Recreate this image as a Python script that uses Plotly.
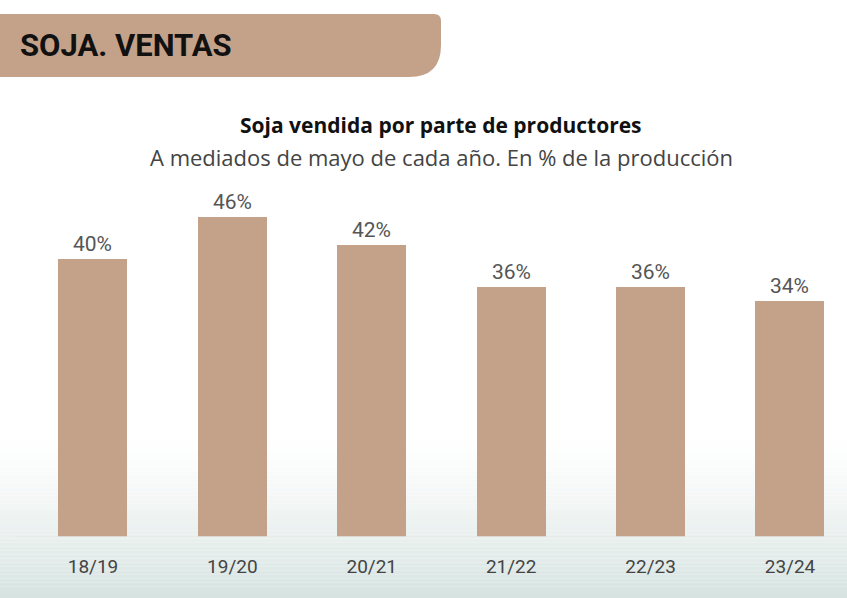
import plotly.graph_objects as go
import numpy as np

categories = ["18/19", "19/20", "20/21", "21/22", "22/23", "23/24"]
values = [40, 46, 42, 36, 36, 34]
labels = [f"{v}%" for v in values]

W, H = 847, 598
PT, PB = 180, 537  # plot area top/bottom in px

def px(x):
    return x / W

def py(y):
    return (PB - y) / (PB - PT)

BAR = "#c4a28a"
xs = list(range(len(categories)))

fig = go.Figure()
fig.add_trace(go.Bar(
    x=xs, y=values, width=0.495,
    marker=dict(color=BAR, line=dict(width=0)),
    text=labels, textposition="outside", cliponaxis=False,
    textfont=dict(family="Roboto, sans-serif", size=21, color="#555555"),
    hoverinfo="skip",
))

shapes = []
# background gradient (decoration)
top_c = np.array([255, 255, 255])
bot_c = np.array([214, 227, 224])
y0g, y1g, n = 440, 598, 40
for i in range(n):
    a = y0g + (y1g - y0g) * i / n
    b = y0g + (y1g - y0g) * (i + 1) / n
    t = ((i + 0.5) / n) ** 1.3
    c = top_c + (bot_c - top_c) * t
    shapes.append(dict(type="rect", xref="paper", yref="paper", layer="below",
                       x0=0, x1=1, y0=py(b), y1=py(a),
                       fillcolor=f"rgb({int(c[0])},{int(c[1])},{int(c[2])})",
                       line=dict(width=0)))
# baseline
shapes.append(dict(type="line", xref="paper", yref="y", x0=px(15), x1=1, y0=0, y1=0,
                   line=dict(color="#e4e8e7", width=1.5), layer="above"))
# header banner
pts = f"M {px(0)},{py(14)} L {px(434)},{py(14)} Q {px(441)},{py(14)} {px(441)},{py(21)} " \
      f"L {px(441)},{py(45)} Q {px(441)},{py(77)} {px(409)},{py(77)} L {px(0)},{py(77)} Z"
shapes.append(dict(type="path", xref="paper", yref="paper", path=pts,
                   fillcolor=BAR, line=dict(width=0), layer="below"))

annotations = [
    dict(text="<b>SOJA. VENTAS</b>", x=px(18), y=py(45), xref="paper", yref="paper",
         xanchor="left", yanchor="middle", showarrow=False,
         font=dict(family="Roboto, sans-serif", size=31, color="#111111")),
    dict(text="<b>Soja vendida por parte de productores</b>", x=px(441), y=py(125),
         xref="paper", yref="paper", xanchor="center", yanchor="middle", showarrow=False,
         font=dict(family="Open Sans, sans-serif", size=21, color="#111111")),
    dict(text="A mediados de mayo de cada año. En % de la producción", x=px(441), y=py(157),
         xref="paper", yref="paper", xanchor="center", yanchor="middle", showarrow=False,
         font=dict(family="Open Sans, sans-serif", size=22, color="#444444")),
]

fig.update_layout(
    width=W, height=H,
    margin=dict(l=0, r=0, t=PT, b=H - PB, pad=0),
    paper_bgcolor="white", plot_bgcolor="rgba(0,0,0,0)",
    showlegend=False, bargap=0,
    shapes=shapes, annotations=annotations,
    xaxis=dict(range=[-0.667, 5.409], tickvals=xs, ticktext=categories,
               showgrid=False, zeroline=False, showline=False, ticks="",
               tickfont=dict(family="Roboto, sans-serif", size=19, color="#444444"),
               fixedrange=True),
    yaxis=dict(range=[0, (PB - PT) / 6.95], visible=False, fixedrange=True),
)
fig.update_xaxes(ticklabelstandoff=16)

fig.write_html("out.html")
